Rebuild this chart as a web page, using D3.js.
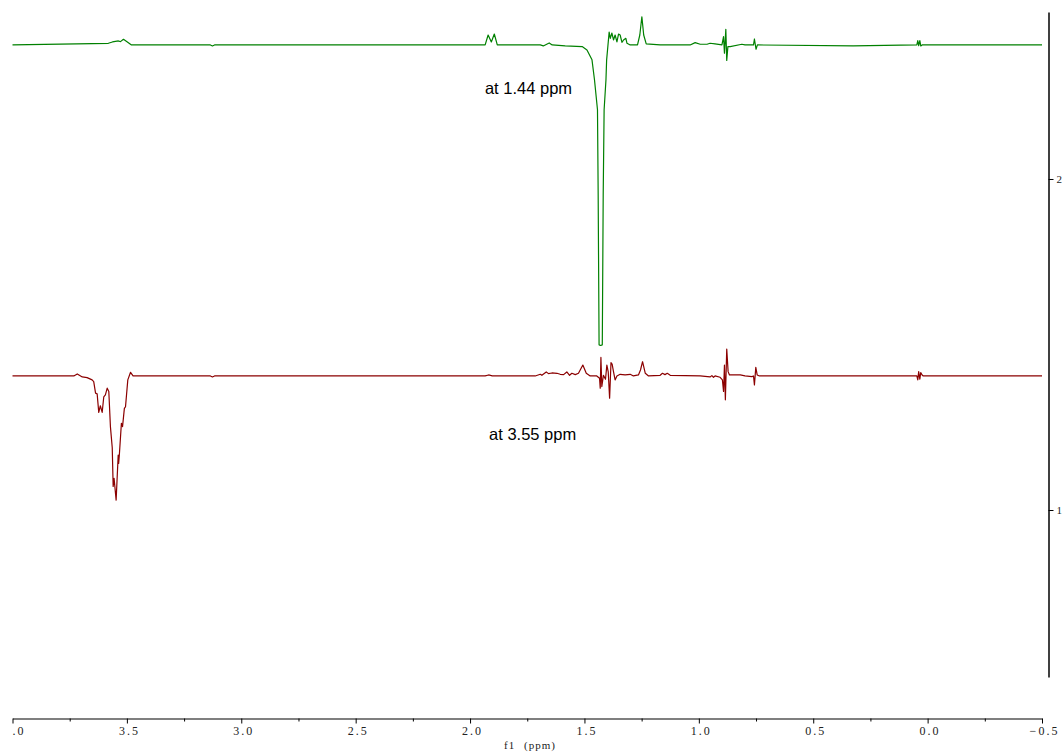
<!DOCTYPE html>
<html>
<head>
<meta charset="utf-8">
<script src="https://cdn.jsdelivr.net/npm/d3@7"></script>
<style>
  html, body { margin: 0; padding: 0; background: #fff; }
  svg { display: block; }
</style>
</head>
<body>
<svg id="chart" width="1064" height="754"></svg>
<script>
// ---- data (ppm, intensity relative to trace baseline, y-axis units) ----
const greenPpm = [4.000, 3.581, 3.563, 3.537, 3.528, 3.515, 3.498, 3.480, 3.135, 3.126, 3.117,
  1.934, 1.921, 1.907, 1.894, 1.881, 1.693, 1.680, 1.654, 1.641, 1.584,
  1.510, 1.489, 1.467, 1.456, 1.443, 1.440, 1.436, 1.429, 1.422, 1.418, 1.414, 1.406, 1.403,
  1.392, 1.387, 1.380, 1.373, 1.366, 1.358, 1.351, 1.344, 1.336, 1.329, 1.319, 1.314, 1.300,
  1.268, 1.258, 1.249, 1.241, 1.230, 1.169, 1.038, 1.016, 0.994, 0.964, 0.951, 0.929, 0.899,
  0.892, 0.888, 0.882, 0.878, 0.873, 0.863, 0.812, 0.798, 0.761, 0.757, 0.750, 0.744, 0.326,
  0.047, 0.043, 0.039, 0.034, 0.030, 0.024, -0.500];
const greenInt = [0, 0.005, 0.009, 0.012, 0.010, 0.017, 0.009, 0, 0, -0.003, 0,
  0, 0.030, 0.009, 0.033, 0, 0, -0.003, 0.006, 0, -0.003,
  -0.005, -0.015, -0.045, -0.106, -0.196, -0.453, -0.906, -0.908, -0.906, -0.453, -0.196, -0.106, -0.045,
  0.039, 0.020, 0.036, 0.015, 0.030, 0.009, 0.033, 0.030, 0.008, 0.015, 0.020, 0.005, 0,
  0, 0.030, 0.085, 0.030, 0.003, 0, 0, 0.007, 0.002, 0.002, 0.005, 0.003, 0,
  0.025, -0.025, 0.047, -0.047, -0.005, -0.005, 0.002, 0, 0, 0.018, -0.013, 0, -0.003,
  0, 0.013, -0.002, 0.013, -0.003, 0, 0];

const redPpm = [4.000, 3.732, 3.717, 3.695, 3.674, 3.652, 3.645, 3.637, 3.630, 3.623, 3.616,
  3.608, 3.601, 3.594, 3.586, 3.579, 3.572, 3.564, 3.560, 3.556, 3.547, 3.538, 3.536, 3.533,
  3.524, 3.519, 3.511, 3.506, 3.496, 3.484, 3.473, 3.135, 3.126, 3.117, 1.934, 1.919, 1.903,
  1.715, 1.693, 1.686, 1.667, 1.657, 1.642, 1.620, 1.606, 1.591, 1.577, 1.565, 1.555, 1.540,
  1.526, 1.507, 1.492, 1.475, 1.446, 1.434, 1.431, 1.428, 1.424, 1.417, 1.408, 1.402, 1.396,
  1.390, 1.384, 1.379, 1.373, 1.366, 1.358, 1.344, 1.322, 1.300, 1.286, 1.264, 1.255, 1.246,
  1.234, 1.220, 1.169, 1.159, 1.148, 1.138, 1.125, 0.994, 0.951, 0.943, 0.936, 0.929, 0.907,
  0.897, 0.892, 0.888, 0.884, 0.878, 0.872, 0.866, 0.819, 0.798, 0.768, 0.761, 0.757, 0.751,
  0.745, 0.735, 0.047, 0.043, 0.039, 0.034, 0.030, 0.024, 0.019, -0.500];
const redInt = [0, 0, 0.006, -0.003, -0.005, -0.012, -0.017, -0.052, -0.054, -0.110, -0.090,
  -0.110, -0.063, -0.057, -0.037, -0.047, -0.153, -0.217, -0.334, -0.309, -0.375, -0.239, -0.264, -0.239,
  -0.143, -0.153, -0.098, -0.093, -0.012, 0.011, 0, 0, -0.003, 0, 0, 0.003, 0,
  0, 0.005, 0.002, 0.012, 0.007, 0.009, 0.008, 0.005, 0.004, 0.012, 0.002, 0.008, 0.004,
  0.008, 0.033, 0.008, 0, 0, -0.007, -0.037, 0.056, -0.032, 0.002, -0.010, 0.033, 0.012,
  -0.067, 0.040, 0.036, 0.013, -0.012, 0, 0.005, 0.003, 0.005, 0, 0.003, 0.018, 0.043,
  0.008, 0, 0.002, 0.008, 0.004, 0.008, 0.002, 0, -0.003, 0.001, -0.004, 0, -0.004,
  -0.012, -0.047, 0.033, -0.072, 0.081, 0.013, 0.003, 0.003, 0, -0.002, 0, -0.027, 0.026,
  0.003, 0, 0, -0.012, 0.013, -0.010, 0.010, 0.003, 0, 0];

const traceOffsets = [2.405, 1.405];          // green, red
const traceColors = ["#008000", "#8b0000"];
const traceLabels = ["at 1.44 ppm", "at 3.55 ppm"];
const labelPpm = [1.935, 1.917];
const labelValue = [2.257, 1.2115];

const xTickValues = [4.0, 3.5, 3.0, 2.5, 2.0, 1.5, 1.0, 0.5, 0.0, -0.5];
const xMinorTicks = [3.75, 3.25, 2.75, 2.25, 1.75, 1.25, 0.75, 0.25, -0.25];
const yTickValues = [1, 2];
const xTitle = "f1 (ppm)";

// ---- drawing ----
const svg = d3.select("#chart");
const x = d3.scaleLinear().domain([4.0, -0.5]).range([12.5, 1042]);
const y = d3.scaleLinear().domain([0.4955, 2.5045]).range([677, 12]);

const traces = [
  { ppm: greenPpm, val: greenInt },
  { ppm: redPpm, val: redInt }
];

traces.forEach((t, i) => {
  const pts = t.ppm.map((p, j) => [p, traceOffsets[i] + t.val[j]]);
  svg.append("path")
    .datum(pts)
    .attr("fill", "none")
    .attr("stroke", traceColors[i])
    .attr("stroke-width", 1.2)
    .attr("stroke-linejoin", "round")
    .attr("d", d3.line().x(d => x(d[0])).y(d => y(d[1])));
  svg.append("text")
    .attr("x", x(labelPpm[i]))
    .attr("y", y(labelValue[i]))
    .attr("font-family", "Liberation Sans, Arial, sans-serif")
    .attr("font-size", 16.5)
    .attr("fill", "#000")
    .text(traceLabels[i]);
});

// bottom axis (labels clipped at the left end of the axis)
svg.append("clipPath").attr("id", "axclip")
  .append("rect").attr("x", 12).attr("y", -20).attr("width", 1052).attr("height", 60);

const xAxisG = svg.append("g")
  .attr("transform", "translate(0,718.5)")
  .attr("clip-path", "url(#axclip)")
  .call(d3.axisBottom(x).tickValues(xTickValues).tickSize(5).tickSizeOuter(0)
    .tickFormat(d3.format(".1f")));
xAxisG.selectAll("text")
  .attr("font-family", "Liberation Serif, DejaVu Serif, serif")
  .attr("font-size", 12)
  .attr("letter-spacing", "2px")
  .attr("dx", 2)
  .attr("dy", "0.7em")
  .attr("fill", "#222");
xAxisG.select(".domain").attr("stroke", "#000").attr("stroke-width", 1.2);

const xMinorG = svg.append("g")
  .attr("transform", "translate(0,718.5)")
  .call(d3.axisBottom(x).tickValues(xMinorTicks).tickSize(3).tickSizeOuter(0).tickFormat(""));
xMinorG.select(".domain").remove();

svg.append("text")
  .attr("x", 530).attr("y", 749)
  .attr("text-anchor", "middle")
  .attr("font-family", "Liberation Serif, DejaVu Serif, serif")
  .attr("font-size", 11)
  .attr("letter-spacing", "1px")
  .attr("word-spacing", "5px")
  .attr("fill", "#222")
  .text(xTitle);

// right axis
const yAxisG = svg.append("g")
  .attr("transform", "translate(1048.5,0)")
  .call(d3.axisRight(y).tickValues(yTickValues).tickSize(5).tickSizeOuter(0)
    .tickFormat(d3.format("d")));
yAxisG.selectAll("text")
  .attr("font-family", "Liberation Serif, DejaVu Serif, serif")
  .attr("font-size", 11)
  .attr("x", 8)
  .attr("fill", "#222");
yAxisG.select(".domain").attr("stroke", "#000").attr("stroke-width", 1.5);
</script>
</body>
</html>
